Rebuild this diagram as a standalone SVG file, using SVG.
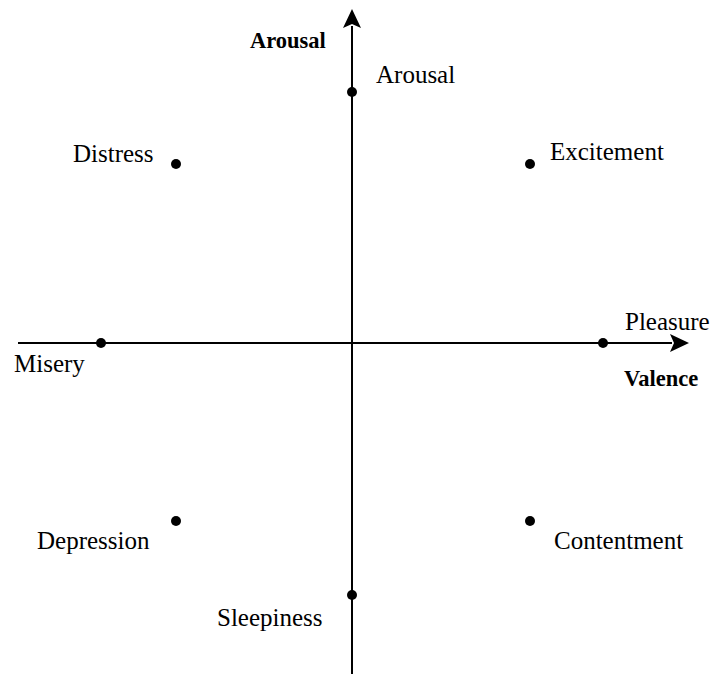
<svg xmlns="http://www.w3.org/2000/svg" width="711" height="674" viewBox="0 0 711 674">
<defs>
<style>
.t{font-family:"Liberation Serif","Times New Roman",serif;font-size:25px;fill:#000}
.b{font-weight:bold;font-size:22.5px}
.ax{stroke:#000;stroke-width:2;fill:none}
.dot{fill:#000}
</style>
</defs>
<rect width="711" height="674" fill="#fff"/>
<g id="connectors">
<line class="ax" x1="18" y1="343" x2="672" y2="343"/>
<path d="M689,343 L670,334 L674,343 L670,352 Z" fill="#000"/>
<line class="ax" x1="352" y1="674" x2="352" y2="26"/>
<path d="M352,9 L343,28 L352,24 L361,28 Z" fill="#000"/>
</g>
<g id="axis-arousal"><text class="t b" x="250" y="48">Arousal</text></g>
<g id="axis-valence"><text class="t b" x="624" y="386">Valence</text></g>
<g id="arousal"><circle class="dot" cx="352" cy="92" r="5"/><text class="t" x="376" y="83">Arousal</text></g>
<g id="distress"><circle class="dot" cx="176" cy="164" r="5"/><text class="t" x="73" y="162">Distress</text></g>
<g id="excitement"><circle class="dot" cx="530" cy="164" r="5"/><text class="t" x="550" y="160">Excitement</text></g>
<g id="misery"><circle class="dot" cx="101" cy="343" r="5"/><text class="t" x="14" y="372">Misery</text></g>
<g id="pleasure"><circle class="dot" cx="603" cy="343" r="5"/><text class="t" x="625" y="330">Pleasure</text></g>
<g id="depression"><circle class="dot" cx="176" cy="521" r="5"/><text class="t" x="37" y="549">Depression</text></g>
<g id="contentment"><circle class="dot" cx="530" cy="521" r="5"/><text class="t" x="554" y="549">Contentment</text></g>
<g id="sleepiness"><circle class="dot" cx="352" cy="595" r="5"/><text class="t" x="217" y="626">Sleepiness</text></g>
</svg>
